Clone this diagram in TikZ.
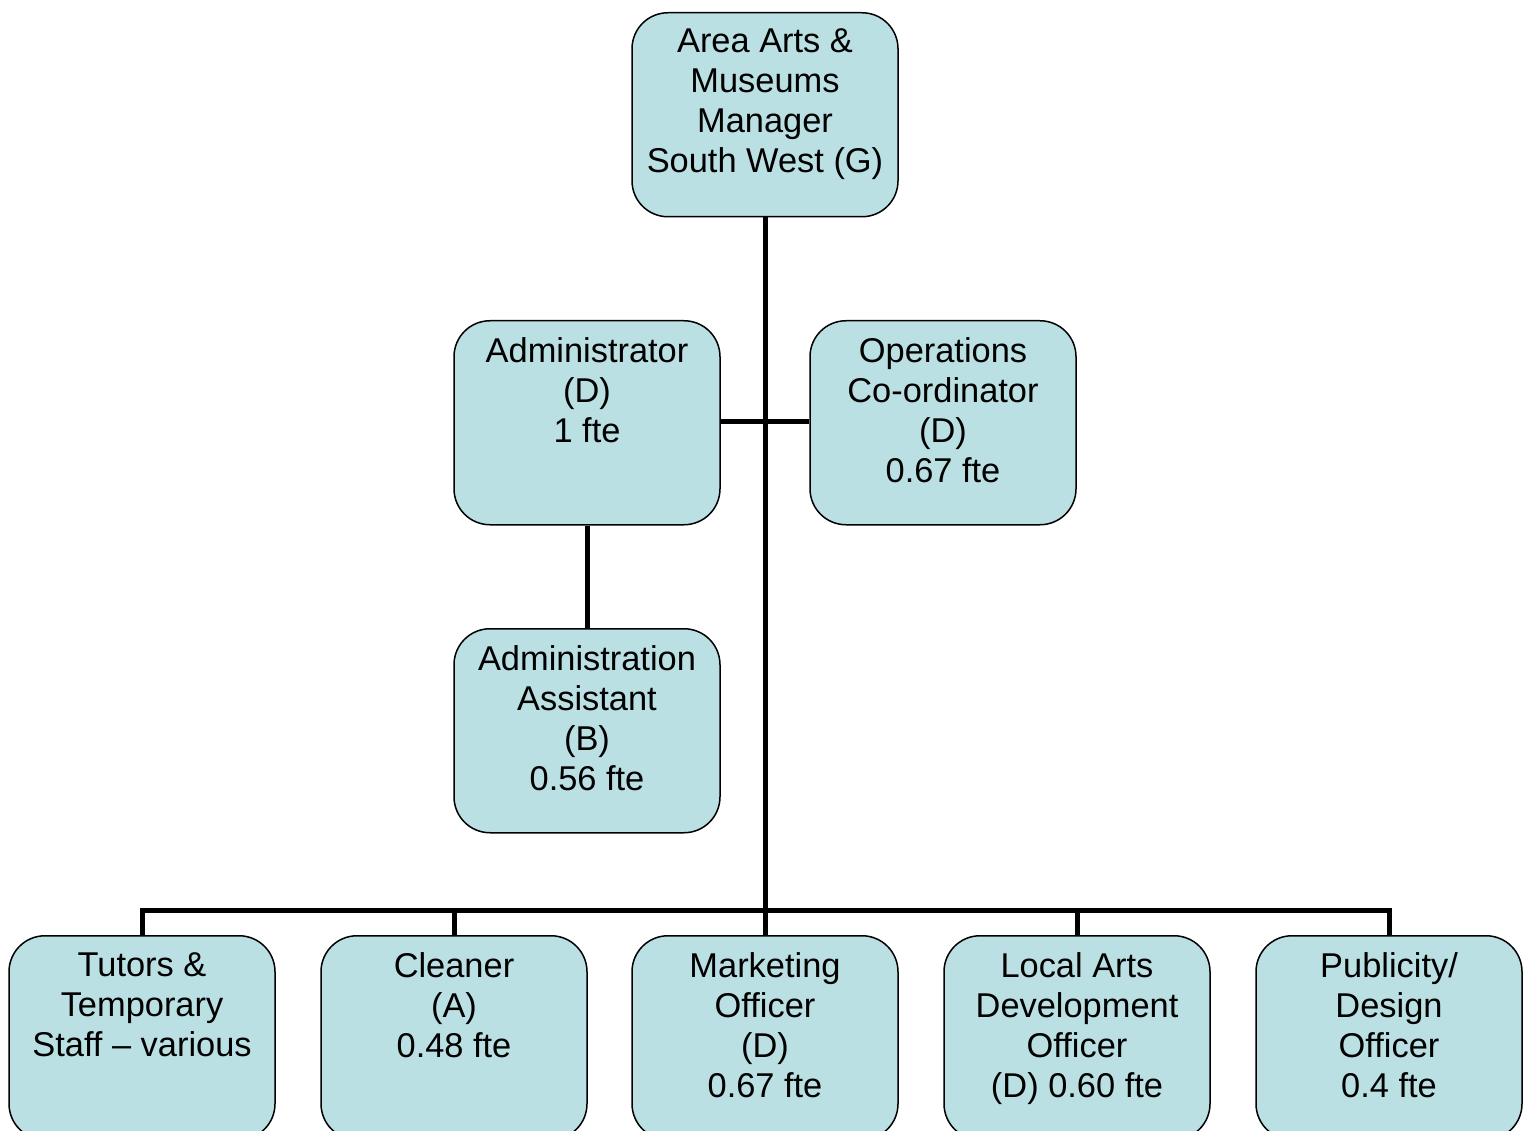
\documentclass[tikz,border=0pt]{standalone}
\usepackage{fontspec}
\setmainfont{Liberation Sans}
\definecolor{boxfill}{RGB}{186,224,227}
\begin{document}
\begin{tikzpicture}[x=1pt,y=-1pt,
  orgbox/.style={draw=black, line width=1.5pt, fill=boxfill, rounded corners=36pt,
    minimum width=266pt, minimum height=204pt, inner sep=0pt, anchor=north},
  orgtext/.style={anchor=north, inner sep=0pt, align=center,
    font=\fontsize{34.4}{40}\selectfont},
  link/.style={line width=5pt, line join=miter, draw=black}]
\useasboundingbox (0,0) rectangle (1523,1131);
\clip (0,0) rectangle (1523,1131);
\fill[white] (0,0) rectangle (1523,1131);
% boxes
\node[orgbox] (top) at (765,12) {};
\node[orgbox] (adm) at (587,320) {};
\node[orgbox] (ops) at (943,320) {};
\node[orgbox] (asst) at (587,628) {};
\node[orgbox] (b1) at (142,935) {};
\node[orgbox] (b2) at (454,935) {};
\node[orgbox] (b3) at (765,935) {};
\node[orgbox] (b4) at (1077,935) {};
\node[orgbox] (b5) at (1389,935) {};
% texts
\node[orgtext] (ttop) at ([yshift=-17pt]top.north) {Area Arts \&\\Museums\\Manager\\South West (G)};
\node[orgtext] (tadm) at ([yshift=-17pt]adm.north) {Administrator\\(D)\\1 fte};
\node[orgtext] (tops) at ([yshift=-17pt]ops.north) {Operations\\Co-ordinator\\(D)\\0.67 fte};
\node[orgtext] (tasst) at ([yshift=-17pt]asst.north) {Administration\\Assistant\\(B)\\0.56 fte};
\node[orgtext] (tb1) at ([yshift=-17pt]b1.north) {Tutors \&\\Temporary\\Staff – various};
\node[orgtext] (tb2) at ([yshift=-17pt]b2.north) {Cleaner\\(A)\\0.48 fte};
\node[orgtext] (tb3) at ([yshift=-17pt]b3.north) {Marketing\\Officer\\(D)\\0.67 fte};
\node[orgtext] (tb4) at ([yshift=-17pt]b4.north) {Local Arts\\Development\\Officer\\(D) 0.60 fte};
\node[orgtext] (tb5) at ([yshift=-17pt]b5.north) {Publicity/\\Design\\Officer\\0.4 fte};
% connectors
\coordinate (bus) at (765,910);
\coordinate (mid) at (765,421);
\draw[link] (top.south) -- (bus);
\draw[link] (adm.east |- mid) -- (ops.west |- mid);
\draw[link] (adm.south) -- (asst.north);
\draw[link] (b1.north) -- (b1.north |- bus) -- (b5.north |- bus) -- (b5.north);
\draw[link] (b2.north) -- (b2.north |- bus);
\draw[link] (b3.north) -- (b3.north |- bus);
\draw[link] (b4.north) -- (b4.north |- bus);
\end{tikzpicture}
\end{document}
